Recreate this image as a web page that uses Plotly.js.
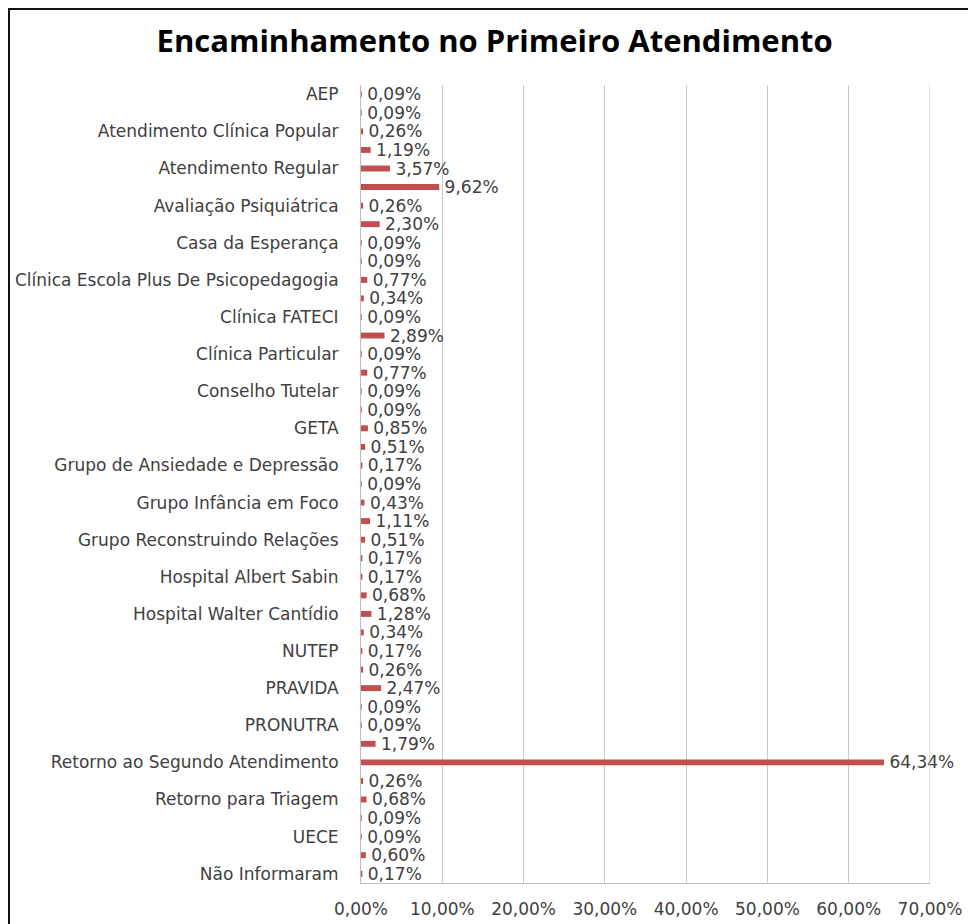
<!DOCTYPE html>
<html>
<head>
<meta charset="utf-8">
<script src="https://cdn.plot.ly/plotly-3.0.1.min.js"></script>
<style>
  html, body { margin: 0; padding: 0; background: #fff; }
  #wrap { position: relative; width: 968px; height: 924px; }
  #chart { width: 968px; height: 924px; }
  #frame { position: absolute; left: 8px; top: 8px; right: -10px; bottom: -10px;
           border-left: 2px solid #111; border-top: 2px solid #111; pointer-events: none; }
</style>
</head>
<body>
<div id="wrap">
  <div id="chart"></div>
  <div id="frame"></div>
</div>
<script>
// Category labels shown on the axis (every other bar is labelled)
const labels = [
  "AEP",
  "Atendimento Clínica Popular",
  "Atendimento Regular",
  "Avaliação Psiquiátrica",
  "Casa da Esperança",
  "Clínica Escola Plus De Psicopedagogia",
  "Clínica FATECI",
  "Clínica Particular",
  "Conselho Tutelar",
  "GETA",
  "Grupo de Ansiedade e Depressão",
  "Grupo Infância em Foco",
  "Grupo Reconstruindo Relações",
  "Hospital Albert Sabin",
  "Hospital Walter Cantídio",
  "NUTEP",
  "PRAVIDA",
  "PRONUTRA",
  "Retorno ao Segundo Atendimento",
  "Retorno para Triagem",
  "UECE",
  "Não Informaram"
];

// Percentages, top to bottom (43 bars)
const values = [
  0.09, 0.09, 0.26, 1.19, 3.57, 9.62, 0.26, 2.30, 0.09, 0.09,
  0.77, 0.34, 0.09, 2.89, 0.09, 0.77, 0.09, 0.09, 0.85, 0.51,
  0.17, 0.09, 0.43, 1.11, 0.51, 0.17, 0.17, 0.68, 1.28, 0.34,
  0.17, 0.26, 2.47, 0.09, 0.09, 1.79, 64.34, 0.26, 0.68, 0.09,
  0.09, 0.60, 0.17
];

const xTicks = [0, 10, 20, 30, 40, 50, 60, 70];

const FONT = '"DejaVu Sans", Verdana, sans-serif';
const positions = values.map((v, i) => i);
const labelPositions = labels.map((l, i) => i * 2);

const trace = {
  type: 'bar',
  orientation: 'h',
  x: values,
  y: positions,
  marker: { color: '#c0504d' },
  width: 0.32,
  text: values.map(v => '\u00a0' + v.toFixed(2).replace('.', ',') + '%'),
  textposition: 'outside',
  constraintext: 'none',
  textangle: 0,
  textfont: { family: FONT, size: 17, color: '#404040' },
  cliponaxis: false,
  hoverinfo: 'x+y'
};

const layout = {
  width: 968,
  height: 924,
  paper_bgcolor: '#fff',
  plot_bgcolor: '#fff',
  separators: ',.',
  showlegend: false,
  margin: { l: 361, r: 38, t: 85, b: 41 },
  title: {
    text: '<b>Encaminhamento no Primeiro Atendimento</b>',
    font: { family: '"Open Sans", sans-serif', size: 31, color: '#000' },
    x: 0.511, xanchor: 'center',
    y: 0.955, yanchor: 'middle'
  },
  xaxis: {
    range: [0, 70],
    tickvals: xTicks,
    ticktext: xTicks.map(t => t.toFixed(2).replace('.', ',') + '%'),
    showgrid: true,
    gridcolor: '#c8c8c8',
    gridwidth: 1,
    zeroline: false,
    showline: true,
    linecolor: '#bdbdbd',
    linewidth: 1,
    ticks: 'outside',
    ticklen: 11,
    tickcolor: 'rgba(0,0,0,0)',
    tickfont: { family: FONT, size: 17, color: '#404040' },
    fixedrange: true
  },
  yaxis: {
    range: [42.5, -0.5],
    tickvals: labelPositions,
    ticktext: labels,
    showgrid: false,
    zeroline: false,
    showline: true,
    linecolor: '#bdbdbd',
    linewidth: 1,
    ticks: 'outside',
    ticklen: 18,
    tickcolor: 'rgba(0,0,0,0)',
    tickfont: { family: FONT, size: 17, color: '#404040' },
    fixedrange: true
  },
  shapes: [{
    type: 'line', xref: 'x', yref: 'paper',
    x0: 70, x1: 70, y0: 0, y1: 1,
    line: { color: '#bdbdbd', width: 1 }
  }]
};

Plotly.newPlot('chart', [trace], layout, { displayModeBar: false, staticPlot: true });
</script>
</body>
</html>
